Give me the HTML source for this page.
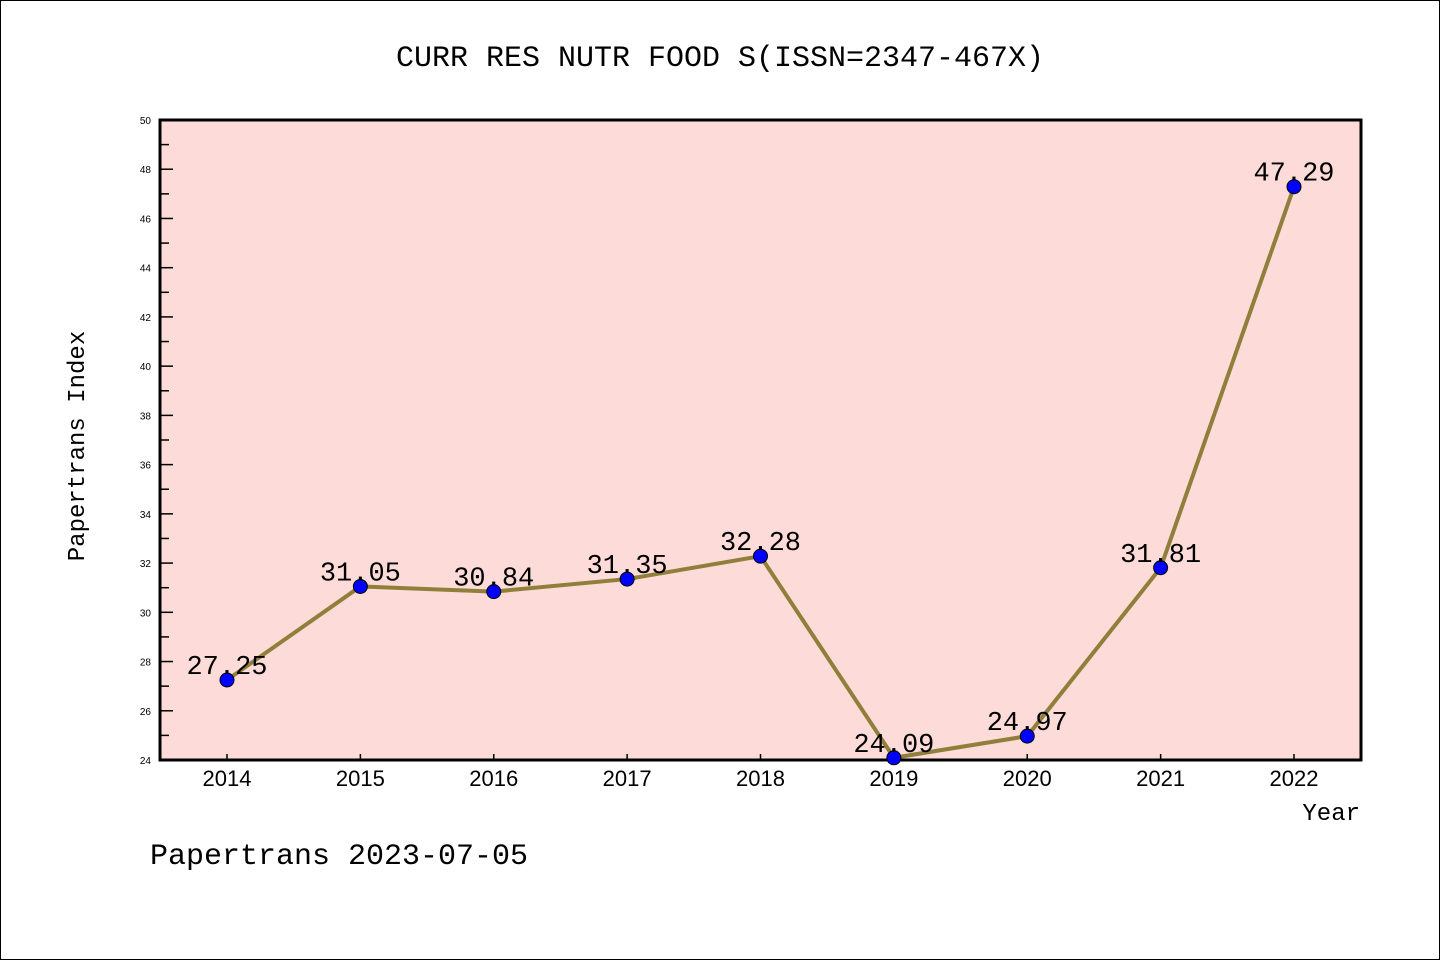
<!DOCTYPE html>
<html><head><meta charset="utf-8"><style>
body{margin:0;background:#fff}
svg{display:block;font-family:"Liberation Mono","Noto Sans CJK SC",monospace}
</style></head><body>
<svg width="1440" height="960">
<rect x="0.5" y="0.5" width="1439" height="959" fill="#fff" stroke="#000"/>
<text x="720" y="66" text-anchor="middle" font-size="30">CURR RES NUTR FOOD S(ISSN=2347-467X)</text>
<rect x="160" y="120" width="1201" height="640" fill="#fddbd8" stroke="#000" stroke-width="3"/>
<g id="yaxis"></g><g id="xaxis"></g><g id="series"></g>
<text transform="translate(84,446) rotate(-90)" text-anchor="middle" font-size="24">Papertrans Index</text>
<text x="1360" y="820" text-anchor="end" font-size="24">Year</text>
<text x="150" y="864" font-size="30">Papertrans 2023-07-05</text>
</svg>
<script>
const years=["2014","2015","2016","2017","2018","2019","2020","2021","2022"];
const values=[27.25,31.05,30.84,31.35,32.28,24.09,24.97,31.81,47.29];
const labels=["27.25","31.05","30.84","31.35","32.28","24.09","24.97","31.81","47.29"];
const yTicks=[24,26,28,30,32,34,36,38,40,42,44,46,48,50];
const NS="http://www.w3.org/2000/svg";
const yMin=24,yMax=50,yTop=120,yBot=760;
function sy(v){return yBot-(v-yMin)/(yMax-yMin)*(yBot-yTop);}
function sx(i){return 227+i*(1294-227)/(years.length-1);}
function mk(t,a,p){const e=document.createElementNS(NS,t);for(const k in a)e.setAttribute(k,a[k]);p.appendChild(e);return e;}
const ya=document.getElementById('yaxis'),xa=document.getElementById('xaxis'),sg=document.getElementById('series');
yTicks.forEach(v=>{
 const l=mk('line',{x1:160,x2:173,y1:sy(v),y2:sy(v),stroke:'#000','stroke-width':1.5},ya);
 
 
 if(v<yMax){const m=mk('line',{x1:160,x2:169,y1:sy(v+1),y2:sy(v+1),stroke:'#000','stroke-width':1.5},ya);
 
 }
 const t=mk('text',{x:151,y:sy(v)+4,'text-anchor':'end','font-size':10,'font-family':'Liberation Sans,sans-serif'},ya);
 t.textContent=v;
 
 
});
years.forEach((yr,i)=>{
 const l=mk('line',{x1:sx(i),x2:sx(i),y1:760,y2:754,stroke:'#000','stroke-width':1.5},xa);
 
 
 const t=mk('text',{x:sx(i),y:786,'text-anchor':'middle','font-size':22,'font-family':'Liberation Sans,sans-serif'},xa);
 t.textContent=yr;
 
 
});
const pl=mk('polyline',{points:values.map((v,i)=>sx(i)+','+sy(v)).join(' '),fill:'none',stroke:'#8f7f3a','stroke-width':4},sg);


values.forEach((v,i)=>{
 const c=mk('circle',{cx:sx(i),cy:sy(v),r:7,fill:'#0000ff',stroke:'#000','stroke-width':1},sg);
 
 
 const t=mk('text',{x:sx(i),y:sy(v)-6,'text-anchor':'middle','font-size':27},sg);
 t.textContent=labels[i];
 
 
});
</script>
</body></html>
